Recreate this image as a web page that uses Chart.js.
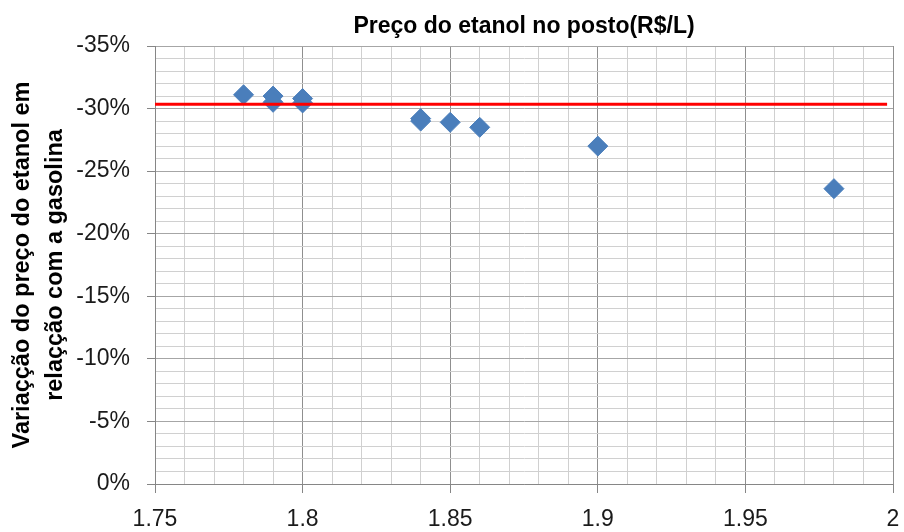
<!DOCTYPE html>
<html>
<head>
<meta charset="utf-8">
<script src="https://cdn.jsdelivr.net/npm/chart.js@4.4.1/dist/chart.umd.min.js"></script>
<style>
  html, body { margin: 0; padding: 0; background: #ffffff; }
  #wrap { width: 904px; height: 532px; }
</style>
</head>
<body>
<div id="wrap"><canvas id="c" width="904" height="532"></canvas></div>
<script>
// ---- data ----
const chartTitle = 'Preço do etanol no posto(R$/L)';
const yAxisTitle = ['Variaçção do preço do etanol em', 'relaçção com a gasolina'];
const precoEtanol = [1.78, 1.79, 1.79, 1.80, 1.80, 1.84, 1.84, 1.85, 1.86, 1.90, 1.98];
const variacaoPreco = [-0.311, -0.310, -0.305, -0.308, -0.3045, -0.292, -0.290, -0.289, -0.285, -0.270, -0.236];
const limiteX = [1.75, 1.998];
const limiteY = [-0.3035, -0.3035];
const xTickLabels = ['1.75', '1.8', '1.85', '1.9', '1.95', '2'];
const yTickLabels = ['-35%', '-30%', '-25%', '-20%', '-15%', '-10%', '-5%', '0%'];

const FONT = "'Liberation Sans', Arial, sans-serif";
const isMajor = v => Math.abs(v * 20 - Math.round(v * 20)) < 1e-6;

const scatterData = precoEtanol.map((x, i) => ({ x: x, y: variacaoPreco[i] }));
const lineData = limiteX.map((x, i) => ({ x: x, y: limiteY[i] }));

new Chart(document.getElementById('c'), {
  type: 'scatter',
  data: {
    datasets: [
      {
        type: 'line',
        data: lineData,
        borderColor: '#ff0000',
        borderWidth: 3,
        pointRadius: 0,
        fill: false,
        showLine: true
      },
      {
        data: scatterData,
        pointStyle: 'rectRot',
        pointRadius: 10,
        pointBorderWidth: 1,
        backgroundColor: '#4a7ebb',
        borderColor: '#4a7ebb',
        showLine: false
      }
    ]
  },
  options: {
    responsive: false,
    animation: false,
    events: [],
    layout: { padding: { left: 0, right: 9, top: 0, bottom: 0 } },
    plugins: {
      legend: { display: false },
      tooltip: { enabled: false },
      title: {
        display: true,
        text: chartTitle,
        fullSize: false,
        color: '#000000',
        font: { family: FONT, size: 23, weight: 'bold', lineHeight: 1.2 },
        padding: { top: 13, bottom: 5.4 }
      }
    },
    scales: {
      x: {
        type: 'linear',
        position: 'bottom',
        min: 1.75,
        max: 2,
        afterFit: s => { s.height = 48; s.paddingLeft = 0; s.paddingRight = 0; },
        border: { display: true, color: '#868686', width: 1 },
        grid: {
          color: c => isMajor(c.tick.value) ? '#8f8f8f' : '#d0d0d0',
          tickColor: c => isMajor(c.tick.value) ? '#868686' : 'rgba(0,0,0,0)',
          tickLength: 9,
          lineWidth: 1
        },
        ticks: {
          stepSize: 0.01,
          autoSkip: false,
          maxRotation: 0,
          padding: 13,
          color: '#1a1a1a',
          font: { family: FONT, size: 23 },
          callback: v => isMajor(v) ? xTickLabels[Math.round((v - 1.75) * 20)] : ''
        }
      },
      y: {
        type: 'linear',
        position: 'left',
        reverse: true,
        min: -0.35,
        max: 0,
        afterFit: s => { s.width = 155; s.paddingTop = 0; s.paddingBottom = 0; },
        border: { display: true, color: '#868686', width: 1 },
        grid: {
          color: c => isMajor(c.tick.value) ? '#a6a6a6' : '#d0d0d0',
          tickColor: c => isMajor(c.tick.value) ? '#868686' : 'rgba(0,0,0,0)',
          tickLength: 8,
          lineWidth: 1
        },
        ticks: {
          stepSize: 0.01,
          autoSkip: false,
          padding: 17,
          color: '#1a1a1a',
          font: { family: FONT, size: 23 },
          callback: v => isMajor(v) ? yTickLabels[Math.round((v + 0.35) * 20)] : ''
        },
        title: {
          display: true,
          text: yAxisTitle,
          color: '#000000',
          font: { family: FONT, size: 23.5, weight: 'bold', lineHeight: 1.4 },
          padding: { top: 6, bottom: 0 }
        }
      }
    }
  }
});
</script>
</body>
</html>
